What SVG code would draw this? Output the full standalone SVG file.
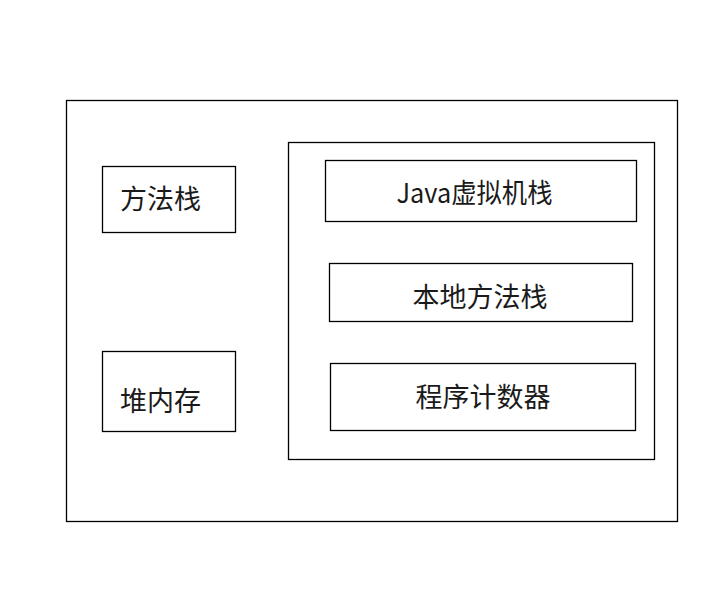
<svg xmlns="http://www.w3.org/2000/svg" width="710" height="599" viewBox="0 0 710 599">
  <style>
    .box { fill: #ffffff; stroke: #000000; stroke-width: 1.3; }
    .lbl { font-family: "Noto Sans CJK SC", "Microsoft YaHei", sans-serif; font-size: 27px; fill: #1a1a1a; }
  </style>
  <rect width="710" height="599" fill="#ffffff"/>
  <!-- runtime memory area -->
  <g id="runtime-area">
    <rect class="box" x="66.5" y="100.5" width="611" height="421"/>
  </g>
  <g id="method-stack">
    <rect class="box" x="102.5" y="166.5" width="133" height="66"/>
    <text class="lbl" x="120" y="209">方法栈</text>
  </g>
  <g id="heap">
    <rect class="box" x="102.5" y="351.5" width="133" height="80"/>
    <text class="lbl" x="120" y="411">堆内存</text>
  </g>
  <!-- thread-private areas -->
  <g id="thread-private">
    <rect class="box" x="288.5" y="142.5" width="366" height="317"/>
  </g>
  <g id="jvm-stack">
    <rect class="box" x="325.5" y="160.5" width="311" height="61"/>
    <text class="lbl" x="474.5" y="203" text-anchor="middle" textLength="156" lengthAdjust="spacingAndGlyphs">Java虚拟机栈</text>
  </g>
  <g id="native-method-stack">
    <rect class="box" x="329.5" y="263.5" width="303" height="58"/>
    <text class="lbl" x="480" y="307" text-anchor="middle">本地方法栈</text>
  </g>
  <g id="program-counter">
    <rect class="box" x="330.5" y="363.5" width="305" height="67"/>
    <text class="lbl" x="483" y="407" text-anchor="middle">程序计数器</text>
  </g>
  <g id="connectors"/>
</svg>
